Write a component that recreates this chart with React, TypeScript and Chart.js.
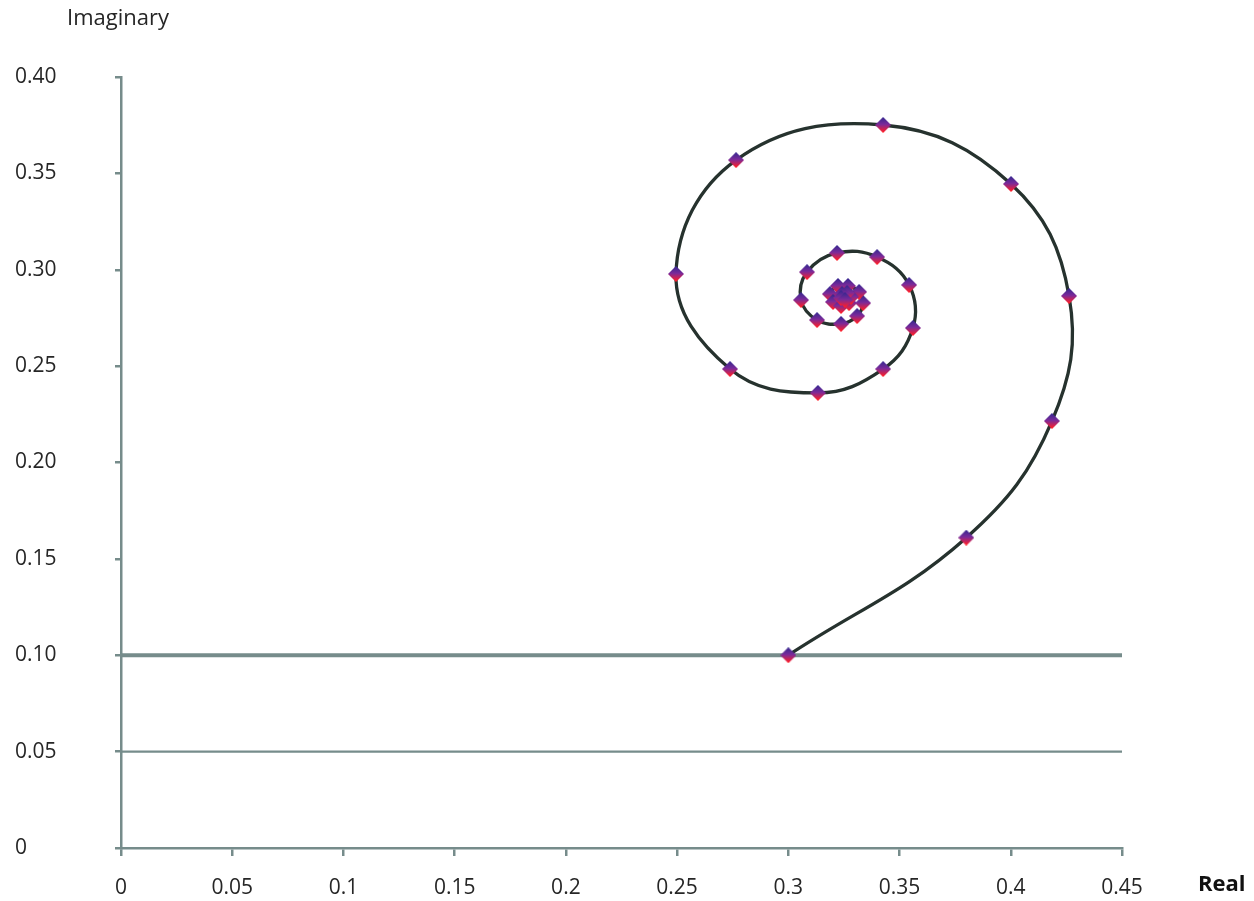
import React, { useEffect, useRef } from 'react';
import { Chart, registerables } from 'chart.js';

Chart.register(...registerables);

// Spiral points (Real, Imaginary)
const realValues = [
  0.300, 0.380, 0.4185, 0.4262, 0.4001, 0.3426, 0.2765, 0.2495, 0.2738, 0.3133,
  0.3426, 0.3560, 0.3543, 0.3399, 0.3219, 0.3084, 0.3057, 0.3129, 0.3237, 0.3309,
  0.3336, 0.3318, 0.3268, 0.3223, 0.3187, 0.3201, 0.3237, 0.3273, 0.3282, 0.3264,
  0.3241, 0.3237, 0.3255,
];
const imagValues = [
  0.100, 0.161, 0.2215, 0.2864, 0.3445, 0.3751, 0.3569, 0.2978, 0.2485, 0.2361,
  0.2485, 0.2698, 0.2921, 0.3066, 0.3087, 0.2988, 0.2843, 0.2739, 0.2719, 0.2760,
  0.2827, 0.2885, 0.2916, 0.2916, 0.2874, 0.2833, 0.2812, 0.2827, 0.2859, 0.2880,
  0.2874, 0.2854, 0.2843,
];

const xTickValues = [0, 0.05, 0.1, 0.15, 0.2, 0.25, 0.3, 0.35, 0.4, 0.45];
const xTickLabels = ['0', '0.05', '0.1', '0.15', '0.2', '0.25', '0.3', '0.35', '0.4', '0.45'];
const yTickValues = [0, 0.05, 0.1, 0.15, 0.2, 0.25, 0.3, 0.35, 0.4];
const yTickLabels = ['0', '0.05', '0.10', '0.15', '0.20', '0.25', '0.30', '0.35', '0.40'];

const refLineLevels = [0.10, 0.05];
const refLineWidths = [4, 2.2];
const refLineSpan = [0, 0.45];

const xAxisTitle = 'Real';
const yAxisTitle = 'Imaginary';

const AXIS_COLOR = '#768c8b';
const TEXT_COLOR = '#262626';
const FONT = '"Open Sans", "DejaVu Sans", sans-serif';

function makeDiamond(): HTMLCanvasElement {
  const s = 16;
  const c = document.createElement('canvas');
  c.width = s;
  c.height = s;
  const g = c.getContext('2d')!;
  const grad = g.createLinearGradient(0, 1, 0, s - 1);
  grad.addColorStop(0, '#3b2890');
  grad.addColorStop(0.45, '#7a2a9a');
  grad.addColorStop(1, '#ff1e28');
  g.fillStyle = grad;
  g.beginPath();
  g.moveTo(s / 2, 0);
  g.lineTo(s, s / 2);
  g.lineTo(s / 2, s);
  g.lineTo(0, s / 2);
  g.closePath();
  g.fill();
  return c;
}

const titlesPlugin = {
  id: 'axisTitles',
  afterDraw(chart: any) {
    const ctx = chart.ctx;
    const area = chart.chartArea;
    ctx.save();
    ctx.fillStyle = TEXT_COLOR;
    ctx.textBaseline = 'middle';
    ctx.textAlign = 'left';
    ctx.font = `22px ${FONT}`;
    ctx.fillText(yAxisTitle, area.left - 54, area.top - 58);
    ctx.fillStyle = '#111111';
    ctx.font = `bold 22px ${FONT}`;
    ctx.fillText(xAxisTitle, area.right + 76, area.bottom + 37);
    ctx.restore();
  },
};

export default function App() {
  const canvasRef = useRef<HTMLCanvasElement | null>(null);

  useEffect(() => {
    if (!canvasRef.current) return;
    const diamond = makeDiamond();

    const spiral = realValues.map((x, i) => ({ x, y: imagValues[i] }));
    const refSets = refLineLevels.map((lvl, i) => ({
      type: 'scatter' as const,
      label: `ref${i}`,
      data: refLineSpan.map((x) => ({ x, y: lvl })),
      showLine: true,
      borderColor: AXIS_COLOR,
      borderWidth: refLineWidths[i],
      pointRadius: 0,
      order: 2,
    }));

    const chart = new Chart(canvasRef.current, {
      type: 'scatter',
      data: {
        datasets: [
          {
            label: 'spiral',
            data: spiral,
            showLine: true,
            borderColor: '#26322e',
            borderWidth: 3.3,
            tension: 0.4,
            pointStyle: diamond as any,
            pointRadius: 8,
            order: 0,
          } as any,
          ...refSets,
        ],
      },
      options: {
        animation: false,
        responsive: true,
        maintainAspectRatio: false,
        layout: { padding: { left: 15, top: 77, right: 132, bottom: 0 } },
        plugins: {
          legend: { display: false },
          tooltip: { enabled: false },
        },
        scales: {
          x: {
            type: 'linear',
            min: 0,
            max: 0.45,
            afterBuildTicks: (s: any) => {
              s.ticks = xTickValues.map((v) => ({ value: v }));
            },
            afterFit: (s: any) => {
              s.height = 53;
            },
            ticks: {
              callback: (_v: any, i: number) => xTickLabels[i],
              color: TEXT_COLOR,
              font: { family: FONT, size: 21 },
              padding: 19,
              maxRotation: 0,
              autoSkip: false,
            },
            grid: {
              display: true,
              drawOnChartArea: false,
              drawTicks: true,
              tickLength: 8,
              color: AXIS_COLOR,
              lineWidth: 2.5,
            },
            border: { display: true, color: AXIS_COLOR, width: 2.5 },
          },
          y: {
            type: 'linear',
            min: 0,
            max: 0.4,
            afterBuildTicks: (s: any) => {
              s.ticks = yTickValues.map((v) => ({ value: v }));
            },
            afterFit: (s: any) => {
              s.width = 106;
            },
            ticks: {
              callback: (_v: any, i: number) => yTickLabels[i],
              color: TEXT_COLOR,
              font: { family: FONT, size: 21 },
              crossAlign: 'far',
              autoSkip: false,
            },
            grid: {
              display: true,
              drawOnChartArea: false,
              drawTicks: true,
              tickLength: 6,
              color: AXIS_COLOR,
              lineWidth: 2.5,
            },
            border: { display: true, color: AXIS_COLOR, width: 2.5 },
          },
        },
      } as any,
      plugins: [titlesPlugin],
    });

    return () => chart.destroy();
  }, []);

  return (
    <div style={{ position: 'absolute', left: 0, top: 0, width: 1254, height: 901, background: '#ffffff' }}>
      <canvas ref={canvasRef} />
    </div>
  );
}
